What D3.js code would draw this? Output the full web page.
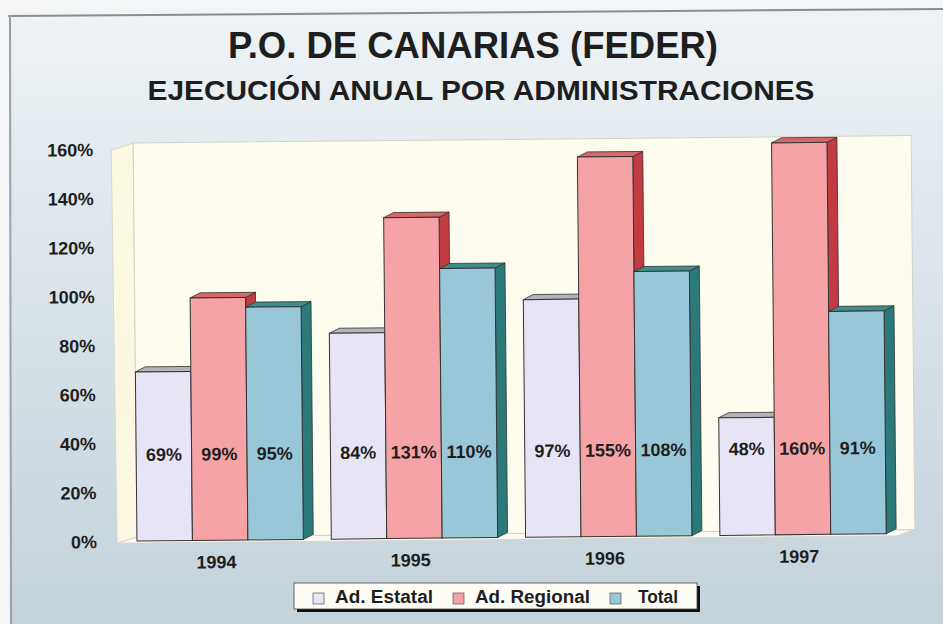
<html>
<head>
<meta charset="utf-8">
<style>
  body { margin: 0; background: #f3f5f6; }
  svg text { font-family: "Liberation Sans", Arial, sans-serif; font-weight: bold; fill: #1e1e1e; }
</style>
<script src="https://cdn.jsdelivr.net/npm/d3@7/dist/d3.min.js"></script>
</head>
<body>
<svg id="chart" width="943" height="624"></svg>
<script>
 // data
 var years = ['1994', '1995', '1996', '1997'];
 var series = ['Ad. Estatal', 'Ad. Regional', 'Total'];
 var estatal = [0.69, 0.84, 0.97, 0.48];
 var regional = [0.99, 1.31, 1.55, 1.60];
 var total = [0.95, 1.10, 1.08, 0.91];
 var yTicks = [0, 0.2, 0.4, 0.6, 0.8, 1.0, 1.2, 1.4, 1.6];

 var colors = {
   'Ad. Estatal':  {front: '#e7e4f6', top: '#b4b4b8', side: '#9c9aa8'},
   'Ad. Regional': {front: '#f5a3a6', top: '#d9666a', side: '#c23b40'},
   'Total':        {front: '#98c8d8', top: '#3b8f8c', side: '#2b7a79'}
 };

 var svg = d3.select('#chart');

 // background
 var defs = svg.append('defs');
 var grad = defs.append('linearGradient').attr('id', 'bg')
   .attr('x1', 0).attr('y1', 0).attr('x2', 0).attr('y2', 1);
 grad.append('stop').attr('offset', '0%').attr('stop-color', '#eef3f6');
 grad.append('stop').attr('offset', '45%').attr('stop-color', '#dae4ea');
 grad.append('stop').attr('offset', '100%').attr('stop-color', '#c4d2da');

 svg.append('polygon')
   .attr('points', '10,16 943,9 943,624 10,624')
   .attr('fill', 'url(#bg)');
 svg.append('line').attr('x1', 8).attr('y1', 16).attr('x2', 943).attr('y2', 9)
   .attr('stroke', '#8a8e90').attr('stroke-width', 2);
 svg.append('line').attr('x1', 10).attr('y1', 15).attr('x2', 11).attr('y2', 624)
   .attr('stroke', '#9aa0a4').attr('stroke-width', 2);

 // titles
 svg.append('text').attr('x', 473).attr('y', 58).attr('text-anchor', 'middle')
   .style('font-size', '36px').attr('textLength', 490).attr('lengthAdjust', 'spacingAndGlyphs')
   .text('P.O. DE CANARIAS (FEDER)');
 svg.append('text').attr('x', 481).attr('y', 100).attr('text-anchor', 'middle')
   .style('font-size', '27px').attr('textLength', 667).attr('lengthAdjust', 'spacingAndGlyphs')
   .text('EJECUCIÓN ANUAL POR ADMINISTRACIONES');

 // plot area (the scan is tilted a little, so the plot is too)
 var plot = svg.append('g').attr('transform', 'rotate(-0.55, 137, 541)');

 var left = 137, right = 915, wallTop = 143, wallBottom = 537, base = 541;
 var dx = 10, dy = 5;

 var x = d3.scaleBand().domain(years).range([left, left + 4 * 194.3])
   .paddingInner(0.144).paddingOuter(0.072).align(0);
 var xs = d3.scaleBand().domain(series).range([0, x.bandwidth()]);
 var y = d3.scaleLinear().domain([0, 1.6]).range([base, 149]);

 // walls and floor
 plot.append('polygon')
   .attr('points', [[115, 150], [left, wallTop], [left, wallBottom], [117, 543]].join(' '))
   .attr('fill', '#fbf8e2').attr('stroke', '#d6d6cc').attr('stroke-width', 1);
 plot.append('polygon')
   .attr('points', [[117, 543], [left, wallBottom], [right, wallBottom], [897, 543]].join(' '))
   .attr('fill', '#fbfaf0').attr('stroke', '#d8d8d0').attr('stroke-width', 1);
 plot.append('rect')
   .attr('x', left).attr('y', wallTop).attr('width', right - left).attr('height', wallBottom - wallTop)
   .attr('fill', '#fdfcef').attr('stroke', '#d2d2cc').attr('stroke-width', 1);

 // y labels
 plot.selectAll('.ylab').data(yTicks).enter().append('text')
   .attr('class', 'ylab')
   .attr('x', 97).attr('y', function(d) { return y(d) + 2; })
   .attr('text-anchor', 'end').attr('dominant-baseline', 'middle')
   .style('font-size', '18px')
   .text(function(d) { return Math.round(d * 100) + '%'; });

 // bars
 var rows = [];
 years.forEach(function(yr, i) {
   rows.push({year: yr, s: 'Ad. Estatal', v: estatal[i]});
   rows.push({year: yr, s: 'Ad. Regional', v: regional[i]});
   rows.push({year: yr, s: 'Total', v: total[i]});
 });

 var bars = plot.selectAll('.bar').data(rows).enter().append('g').attr('class', 'bar');
 bars.each(function(d) {
   var g = d3.select(this);
   var x0 = x(d.year) + xs(d.s), x1 = x0 + xs.bandwidth();
   var yt = y(d.v);
   var c = colors[d.s];
   g.append('polygon')
     .attr('points', [[x1, yt], [x1 + dx, yt - dy], [x1 + dx, base - dy], [x1, base]].join(' '))
     .attr('fill', c.side).attr('stroke', '#333').attr('stroke-width', 0.8);
   g.append('polygon')
     .attr('points', [[x0, yt], [x0 + dx, yt - dy], [x1 + dx, yt - dy], [x1, yt]].join(' '))
     .attr('fill', c.top).attr('stroke', '#333').attr('stroke-width', 0.8);
   g.append('rect')
     .attr('x', x0).attr('y', yt).attr('width', x1 - x0).attr('height', base - yt)
     .attr('fill', c.front).attr('stroke', '#333').attr('stroke-width', 1);
   g.append('text')
     .attr('x', (x0 + x1) / 2).attr('y', 461)
     .attr('text-anchor', 'middle')
     .style('font-size', '18px')
     .text(Math.round(d.v * 100) + '%');
 });

 // year labels
 plot.selectAll('.xlab').data(years).enter().append('text')
   .attr('class', 'xlab')
   .attr('x', function(d) { return x(d) + x.bandwidth() / 2 - 4; })
   .attr('y', 569)
   .attr('text-anchor', 'middle')
   .style('font-size', '18px')
   .text(function(d) { return d; });

 // legend
 var leg = svg.append('g');
 leg.append('rect').attr('x', 297).attr('y', 586).attr('width', 403).attr('height', 26).attr('fill', '#111');
 leg.append('rect').attr('x', 294).attr('y', 583).attr('width', 403).attr('height', 26)
   .attr('fill', '#fdfdf6').attr('stroke', '#444').attr('stroke-width', 0.8);
 var legX = [313, 453, 610];
 var legW = [98, 115, 40];
 series.forEach(function(s, i) {
   leg.append('rect').attr('x', legX[i]).attr('y', 593).attr('width', 11).attr('height', 11)
     .attr('fill', colors[s].front).attr('stroke', '#666').attr('stroke-width', 0.8);
   leg.append('text').attr('x', legX[i] + (i == 2 ? 28 : 22)).attr('y', 603)
     .style('font-size', '18px')
     .attr('textLength', legW[i]).attr('lengthAdjust', 'spacingAndGlyphs')
     .text(s);
 });
</script>
</body>
</html>
